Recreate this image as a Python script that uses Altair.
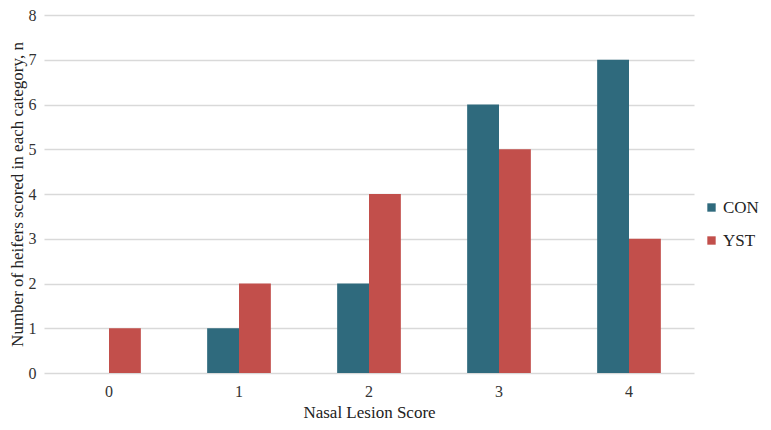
import altair as alt
import pandas as pd

scores = ["0", "1", "2", "3", "4"]
con_counts = [0, 1, 2, 6, 7]
yst_counts = [1, 2, 4, 5, 3]
groups = ["CON", "YST"]
colors = ["#2F6A7D", "#C24F4B"]

rows = []
for s, c, y in zip(scores, con_counts, yst_counts):
    rows.append({"score": s, "group": "CON", "n": c})
    rows.append({"score": s, "group": "YST", "n": y})
df = pd.DataFrame(rows)

FONT = "Liberation Serif"

chart = alt.Chart(df).mark_bar().encode(
    x=alt.X("score:N", sort=scores,
            scale=alt.Scale(paddingInner=0.51, paddingOuter=0.255),
            axis=alt.Axis(title="Nasal Lesion Score", labelAngle=0, domain=False, ticks=False,
                          labelPadding=10, titlePadding=5, grid=False)),
    xOffset=alt.XOffset("group:N", sort=groups),
    y=alt.Y("n:Q", scale=alt.Scale(domain=[0, 8], nice=False),
            axis=alt.Axis(title="Number of heifers scored in each category, n",
                          values=list(range(9)), labelOverlap=False, domain=False, ticks=False,
                          labelPadding=8, titlePadding=2,
                          gridColor="#d9d9d9", gridWidth=1.5)),
    color=alt.Color("group:N", sort=groups,
                    scale=alt.Scale(domain=groups, range=colors),
                    legend=alt.Legend(title=None, orient="none", legendX=659, legendY=184,
                                      symbolType="square", symbolSize=70, rowPadding=15,
                                      labelFontSize=17, labelFont=FONT, symbolStrokeWidth=0,
                                      labelOffset=3, padding=0)),
).properties(
    width=650, height=358,
    autosize=alt.AutoSizeParams(type="none"),
    padding={"left": 36, "top": 7, "right": 69, "bottom": 49},
).configure_view(stroke=None).configure_axis(
    labelFont=FONT, titleFont=FONT, labelFontSize=16, titleFontSize=17,
    labelColor="#333333", titleColor="#222222", titleFontWeight="normal",
).configure_legend(labelColor="#222222")

chart.save("out.html", embed_options={"renderer": "svg", "actions": False})
